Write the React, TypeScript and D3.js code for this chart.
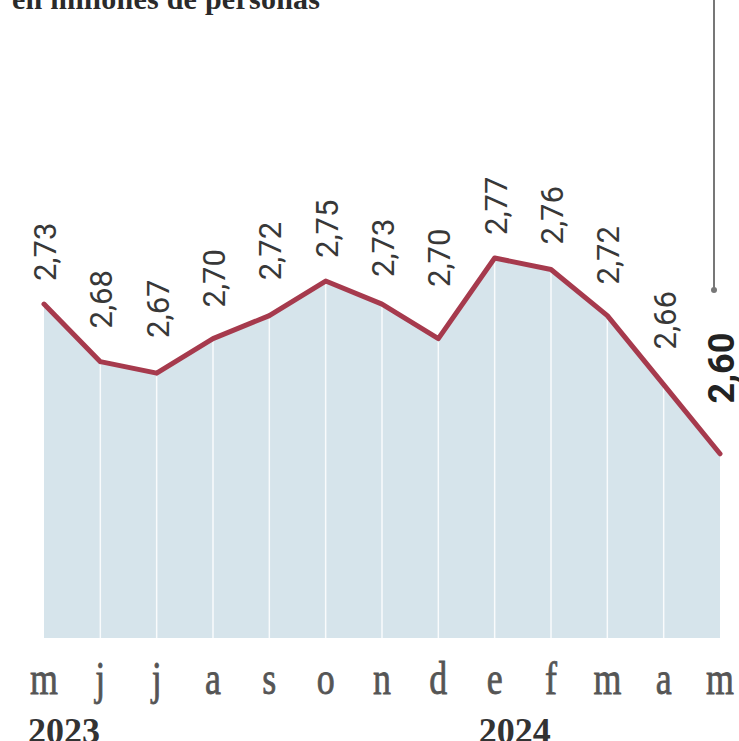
import React from "react";
import * as d3 from "d3";

const months = ["m", "j", "j", "a", "s", "o", "n", "d", "e", "f", "m", "a", "m"];
const values = [2.73, 2.68, 2.67, 2.7, 2.72, 2.75, 2.73, 2.7, 2.77, 2.76, 2.72, 2.66, 2.6];
const years = ["2023", "2024"];
const yearStartIndex = [0, 8];
const title = "en millones de personas";

const W = 739;
const H = 741;

export default function App() {
  const idx = values.map((_, i) => i);
  const x = d3.scalePoint<number>().domain(idx).range([44, 720]);
  const y = d3.scaleLinear().domain([2.44, 2.77]).range([638, 258]);
  const base = y.domain()[0];

  const area = d3
    .area<number>()
    .x((_, i) => x(i)!)
    .y0(y(base))
    .y1((d) => y(d));
  const line = d3
    .line<number>()
    .x((_, i) => x(i)!)
    .y((d) => y(d));

  const pts = values.map((v, i) => [x(i)!, y(v)] as [number, number]);
  const lineYAt = (xx: number) => {
    const cx = Math.max(pts[0][0], Math.min(pts[pts.length - 1][0], xx));
    for (let i = 0; i < pts.length - 1; i++) {
      const [x0, y0] = pts[i];
      const [x1, y1] = pts[i + 1];
      if (cx >= x0 && cx <= x1) return y0 + ((cx - x0) / (x1 - x0)) * (y1 - y0);
    }
    return pts[pts.length - 1][1];
  };
  const fmt = (v: number) => d3.format(".2f")(v).replace(".", ",");
  const last = values.length - 1;

  return (
    <svg
      width={W}
      height={H}
      style={{ position: "absolute", left: 0, top: 0, background: "#fff" }}
    >
      <text
        x={12}
        y={9}
        fontFamily="'Liberation Serif', serif"
        fontWeight="bold"
        fontSize={30}
        fill="#2a2a2a"
        textLength={308}
      >
        {title}
      </text>

      <path d={area(values) ?? ""} fill="#d6e4eb" />
      {values.map((v, i) =>
        i > 0 && i < last ? (
          <line
            key={"g" + i}
            x1={x(i)}
            x2={x(i)}
            y1={y(v) + 3}
            y2={y(base)}
            stroke="#ffffff"
            strokeOpacity={0.85}
            strokeWidth={1.5}
          />
        ) : null
      )}
      <path
        d={line(values) ?? ""}
        fill="none"
        stroke="#a63a4d"
        strokeWidth={5}
        strokeLinejoin="round"
        strokeLinecap="round"
      />

      <line x1={714} x2={714} y1={0} y2={290} stroke="#777" strokeWidth={2} />
      <circle cx={714} cy={290} r={3} fill="#777" />

      {values.map((v, i) => {
        const px = x(i)!;
        const top = Math.min(lineYAt(px - 10), lineYAt(px), lineYAt(px + 20));
        const isLast = i === last;
        const bx = px + (isLast ? 14 : 12);
        const by = top - (isLast ? 38 : 23);
        return (
          <text
            key={"l" + i}
            transform={`translate(${bx},${by}) rotate(-90)`}
            fontFamily="Roboto, sans-serif"
            fontWeight={isLast ? "bold" : "normal"}
            fontSize={isLast ? 36 : 31}
            fill={isLast ? "#222" : "#383838"}
          >
            {fmt(v)}
          </text>
        );
      })}

      {months.map((m, i) => (
        <text
          key={"m" + i}
          transform={`translate(${x(i)},694) scale(0.78,1)`}
          textAnchor="middle"
          fontFamily="'Liberation Serif', serif"
          fontSize={46}
          fill="#555"
          stroke="#555"
          strokeWidth={0.8}
        >
          {m}
        </text>
      ))}

      {years.map((yr, k) => (
        <text
          key={"y" + k}
          x={x(yearStartIndex[k])! - 16}
          y={743}
          fontFamily="'Liberation Serif', serif"
          fontWeight="bold"
          fontSize={36}
          fill="#333"
        >
          {yr}
        </text>
      ))}
    </svg>
  );
}
